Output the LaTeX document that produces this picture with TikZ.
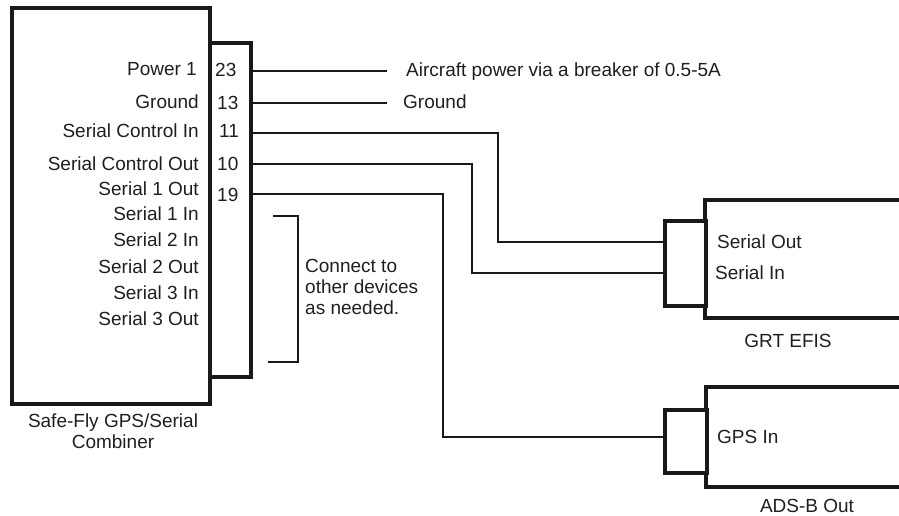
\documentclass[tikz,border=0pt]{standalone}
\usepackage{fontspec}
\setmainfont{Liberation Sans}
\begin{document}
\begin{tikzpicture}[x=1pt,y=-1pt,
  every node/.style={font=\fontsize{19}{21}\selectfont, text=black!88, inner sep=0pt},
  thickbox/.style={draw=black!90, line width=4pt, fill=white, minimum width=#1, rectangle},
  plugbox/.style={draw=black!90, line width=3.5pt, fill=white, rectangle},
  wire/.style={draw=black!90, line width=1.5pt},
  lbl/.style={anchor=base east},
  pin/.style={anchor=base west},
  rlbl/.style={anchor=base west}]
\useasboundingbox (0,0) rectangle (899,516);
% connector strip and main box
\node[plugbox, line width=4pt, minimum width=41pt, minimum height=334pt, anchor=north west] (strip) at (208,41) {};
\node[thickbox=198pt, minimum height=396pt, anchor=north west] (main) at (10,6) {};
% left labels
\node[lbl] (l1) at (197,76) {Power 1};
\node[lbl] (l2) at (199,109) {Ground};
\node[lbl] (l3) at (199,138) {Serial Control In};
\node[lbl] (l4) at (199,170) {Serial Control Out};
\node[lbl] (l5) at (199,195) {Serial 1 Out};
\node[lbl] (l6) at (199,220) {Serial 1 In};
\node[lbl] (l7) at (199,246) {Serial 2 In};
\node[lbl] (l8) at (199,273) {Serial 2 Out};
\node[lbl] (l9) at (199,299) {Serial 3 In};
\node[lbl] (l10) at (199,325) {Serial 3 Out};
% pin numbers
\node[pin] (n23) at (215,77) {23};
\node[pin] (n13) at (217,110) {13};
\node[pin] (n11) at (219,138) {11};
\node[pin] (n10) at (217,170) {10};
\node[pin] (n19) at (217,201) {19};
% caption
\node[anchor=base, align=center] (cap1) at (113,427) {Safe-Fly GPS/Serial};
\node[anchor=base] (cap2) at (113,448) {Combiner};
% right-hand texts
\node[rlbl] (pwr) at (406,77) {Aircraft power via a breaker of 0.5-5A};
\node[rlbl] (gnd) at (403,109) {Ground};
% EFIS
\draw[draw=black!90, line width=4pt] (903,200) -- (705,200) -- (705,318) -- (903,318);
\node[plugbox, minimum width=41pt, minimum height=85pt, anchor=north west] (efisplug) at (663,219) {};
\coordinate (efis) at (705,259);
\node[rlbl] (so) at (717,248) {Serial Out};
\node[rlbl] (si) at (715,279) {Serial In};
\node[anchor=base] (efisname) at (788,347) {GRT EFIS};
% ADS-B
\draw[draw=black!90, line width=4pt] (903,387) -- (706,387) -- (706,487) -- (903,487);
\node[plugbox, minimum width=42pt, minimum height=63pt, anchor=north west] (adsplug) at (663,408) {};
\node[rlbl] (gpsin) at (717,443) {GPS In};
\node[anchor=base] (adsname) at (807,512) {ADS-B Out};
% wire end points
\coordinate (w23) at (251,71);
\coordinate (w13) at (251,103);
\coordinate (w11) at (251,133);
\coordinate (w10) at (251,164);
\coordinate (w19) at (251,194);
\coordinate (e23) at (387,71);
\coordinate (e13) at (387,103);
\coordinate (t11) at (663,242);
\coordinate (t10) at (663,273);
\coordinate (t19) at (663,437);
\draw[wire] (w23) -- (e23);
\draw[wire] (w13) -- (e13);
\draw[wire] (w11) -- (498,133) -- (498,242) -- (t11);
\draw[wire] (w10) -- (472,164) -- (472,273) -- (t10);
\draw[wire] (w19) -- (443,194) -- (443,437) -- (t19);
% bracket
\coordinate (b1) at (273,216);
\coordinate (b2) at (268,362);
\draw[wire] (b1) -- (298,216) -- (298,362) -- (b2);
\node[anchor=base west] (c1) at (305,272) {Connect to};
\node[anchor=base west] (c2) at (305,293) {other devices};
\node[anchor=base west] (c3) at (305,314) {as needed.};
\end{tikzpicture}
\end{document}
